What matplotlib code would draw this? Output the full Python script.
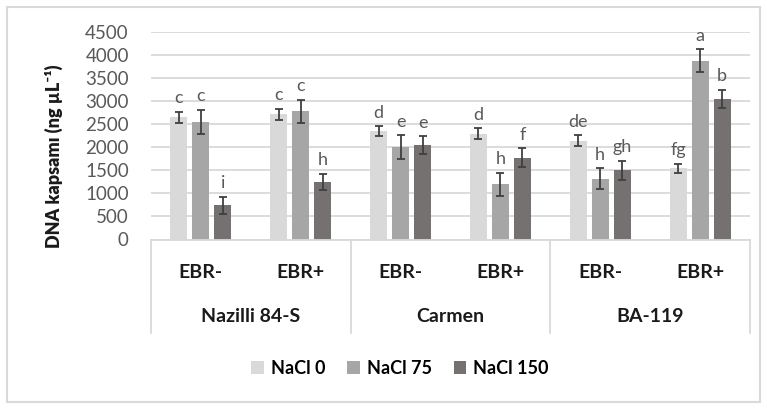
import numpy as np
import matplotlib.pyplot as plt
from matplotlib.patches import Rectangle
import matplotlib.transforms as mtransforms

plt.rcParams['font.family'] = ['Lato', 'DejaVu Sans']

# Data
treatments = ['EBR-', 'EBR+', 'EBR-', 'EBR+', 'EBR-', 'EBR+']
cultivars = ['Nazilli 84-S', 'Carmen', 'BA-119']
series = ['NaCl 0', 'NaCl 75', 'NaCl 150']

nacl0 = [2650, 2720, 2350, 2300, 2150, 1550]
nacl75 = [2550, 2780, 2000, 1200, 1320, 3880]
nacl150 = [740, 1250, 2050, 1780, 1500, 3050]

err0 = [120, 120, 110, 120, 115, 100]
err75 = [265, 260, 260, 245, 230, 250]
err150 = [190, 180, 195, 200, 210, 200]

letters0 = ['c', 'c', 'd', 'd', 'de', 'fg']
letters75 = ['c', 'c', 'e', 'h', 'h', 'a']
letters150 = ['i', 'h', 'e', 'f', 'gh', 'b']

colors = ['#d9d9d9', '#a6a6a6', '#767171']

fig = plt.figure(figsize=(7.67, 4.09), dpi=100)
ax = fig.add_axes([151 / 767, 1 - 239.5 / 409, (750 - 151) / 767, 207.2 / 409])

x = np.arange(len(treatments))
width = 0.17
offsets = [-0.22, 0, 0.22]
vals = [nacl0, nacl75, nacl150]
errs = [err0, err75, err150]
lets = [letters0, letters75, letters150]

for i in range(3):
    xs = x + offsets[i]
    ax.bar(xs, vals[i], width, color=colors[i], label=series[i], zorder=2)
    ax.errorbar(xs, vals[i], yerr=errs[i], fmt='none', ecolor='#404040',
                elinewidth=1.3, capsize=3, capthick=1.3, zorder=3)
    for xi, v, e, t in zip(xs, vals[i], errs[i], lets[i]):
        ax.annotate(t, (xi, v + e), xytext=(0, 4), textcoords='offset points',
                    ha='center', va='bottom', fontsize=13, color='#595959')

ax.set_xlim(-0.5, 5.5)
ax.set_ylim(0, 4500)
ax.set_yticks(np.arange(0, 4501, 500))
ax.tick_params(axis='y', length=0, pad=16, labelsize=13.5, labelcolor='#595959')
ax.set_xticks([])
ax.yaxis.grid(True, color='#d9d9d9', lw=1.3, zorder=0)
ax.set_axisbelow(True)
for s in ax.spines.values():
    s.set_visible(False)

ax.set_ylabel('DNA kapsamı (ng µL⁻¹)', fontsize=13, fontweight='heavy',
              color='#1a1a1a')
ax.yaxis.set_label_coords((63 - 151) / 599, 0.40)

# two-level category axis
trans = mtransforms.blended_transform_factory(ax.transData, ax.transAxes)
ax.plot([-0.5, 5.5], [0, 0], transform=trans, color='#d9d9d9', lw=1.3, clip_on=False)
for sx in [-0.5, 1.5, 3.5, 5.5]:
    ax.plot([sx, sx], [0, -0.451], transform=trans, color='#d9d9d9', lw=1.3, clip_on=False)
for xi, t in zip(x, treatments):
    ax.text(xi, -0.157, t, transform=trans, ha='center', va='center',
            fontsize=14, fontweight='bold', color='#1a1a1a')
for gi, c in enumerate(cultivars):
    ax.text(2 * gi + 0.5, -0.374, c, transform=trans, ha='center', va='center',
            fontsize=14, fontweight='bold', color='#1a1a1a')

fig.legend(loc='center', bbox_to_anchor=(400 / 767, 1 - 368 / 409), ncol=3,
           frameon=False, prop={'weight': 'bold', 'size': 13},
           handlelength=0.7, handleheight=0.7, handletextpad=0.4, columnspacing=1.2)

fig.patches.append(Rectangle((7 / 767, 7 / 409), 753 / 767, 395 / 409,
                             transform=fig.transFigure, fill=False,
                             edgecolor='#d9d9d9', lw=1.5))

fig.savefig('out.png', dpi=100)
